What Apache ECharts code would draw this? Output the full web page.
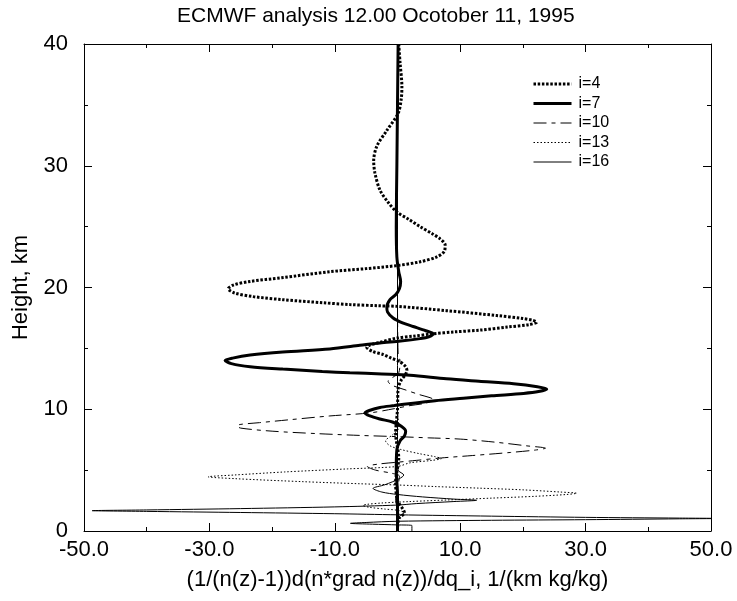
<!DOCTYPE html>
<html>
<head>
<meta charset="utf-8">
<script src="https://cdn.jsdelivr.net/npm/echarts@6/dist/echarts.min.js"></script>
<style>html,body{margin:0;padding:0;background:#fff}#c{width:737px;height:601px}</style>
</head>
<body>
<div id="c"></div>
<script>
// ---- data: [value, height km] ----
const seriesNames = ['i=4', 'i=7', 'i=10', 'i=13', 'i=16'];
const xMajorTicks = [-50, -30, -10, 10, 30, 50];
const xMinorTicks = [-40, -20, 0, 20, 40];
const yMajorTicks = [0, 10, 20, 30, 40];
const yMinorTicks = [5, 15, 25, 35];

const i4 = [[0.2,40],[0.4,38.5],[0.7,36.5],[0.6,35.5],[0.1,34.3],[-1.7,32.9],[-3.3,31.6],[-3.8,30.4],[-3.6,29.4],[-2.8,28],[-1.5,27],[-0.1,26.2],[1.8,25.6],[3.6,25],[5.6,24.4],[6.8,24],[7.6,23.5],[7.5,23.0],[6.2,22.5],[3.5,22.1],[-0.1,21.8],[-5,21.55],[-10.8,21.3],[-18.5,20.8],[-23.5,20.5],[-26.2,20.2],[-27,19.9],[-26,19.55],[-23,19.25],[-18.3,19.0],[-12,18.75],[-7.6,18.6],[-3,18.5],[0,18.45],[7.8,18.1],[15.8,17.7],[20,17.45],[21.6,17.3],[22.2,17.15],[21,16.95],[17.5,16.75],[13.2,16.5],[9,16.35],[5.7,16.2],[2.5,16.0],[-0.1,15.85],[-2.8,15.5],[-4.5,15.25],[-4.9,15.1],[-4,14.75],[-2.3,14.5],[-1,14.2],[0.4,13.9],[1.3,13.5],[1.5,13.2],[1.2,12.8],[0.6,12.4],[0.1,11.7],[0,10],[-0.3,8],[0.2,6],[-0.3,4],[0,2.5],[1.1,1.5],[0.2,1],[0,0]];

const i7 = [[0.1,40],[0,35],[-0.1,30],[-0.2,25],[-0.1,22.5],[0.2,21.3],[0.5,20.5],[0.3,19.9],[-0.3,19.4],[-1.2,19.0],[-1.7,18.4],[-1.6,18.0],[-0.7,17.5],[0.8,17.1],[2.5,16.8],[4.5,16.45],[5.7,16.2],[5,15.95],[3.6,15.8],[0.5,15.6],[-2.8,15.45],[-6,15.25],[-10.8,14.95],[-18.3,14.7],[-23.5,14.45],[-26.3,14.2],[-27.5,14.0],[-26.5,13.75],[-23.5,13.5],[-18.3,13.3],[-12,13.1],[-7.6,13.0],[-2.5,12.9],[2,12.8],[7.8,12.5],[13,12.3],[18.5,12.1],[22.3,11.85],[23.8,11.65],[22.5,11.45],[20.1,11.3],[15,11.1],[10.5,10.9],[6,10.7],[2.5,10.5],[-0.5,10.3],[-2.8,10.15],[-4.5,9.9],[-5.2,9.7],[-4.4,9.45],[-2.8,9.2],[-0.8,8.95],[0.6,8.6],[1.3,8.2],[1.1,7.8],[0.4,7.4],[-0.1,6.7],[-0.2,5],[0,3],[0,1],[0,0]];

const i10 = [[0,40],[0,20],[0.1,14.5],[0.4,14],[0.2,13],[-1.5,12.3],[-1,12.0],[1.2,11.6],[3.5,11.2],[5.2,10.95],[5.7,10.8],[4.5,10.5],[2,10.3],[-0.5,10.05],[-4.4,9.7],[-10.8,9.45],[-17,9.15],[-22,8.9],[-25.1,8.75],[-25.6,8.62],[-25,8.45],[-20,8.2],[-12.9,8.0],[-6,7.85],[0,7.75],[5,7.65],[10,7.55],[15.5,7.3],[20.5,7.0],[23.6,6.8],[22,6.65],[18,6.45],[12,6.2],[7,6.0],[3,5.8],[0,5.65],[-3,5.5],[-4.8,5.3],[-3.5,5.0],[-1,4.75],[0.3,4.5],[0,3.5],[-0.3,2.5],[0.2,1.5],[0,0]];

const i13 = [[0,40],[0,10],[0.2,8.5],[-0.8,7.9],[-1.9,7.4],[-1.2,7.0],[0.5,6.7],[3.5,6.35],[6,6.1],[7,5.95],[5.5,5.8],[2,5.6],[0,5.3],[-8,5.1],[-18,4.85],[-26,4.6],[-30.2,4.45],[-26,4.3],[-15,4.05],[-6,3.88],[0,3.78],[6,3.65],[13,3.52],[20,3.38],[26,3.2],[28.6,3.1],[27,3.0],[22,2.85],[15,2.7],[8,2.55],[2,2.42],[-2.5,2.3],[-5,2.18],[-5.5,2.1],[-4.5,1.95],[-2,1.8],[0,1.7],[1.1,1.5],[0.3,1.2],[0,0]];

const i16 = [[0,40],[0,6],[0.1,5.0],[1.0,4.6],[0.3,4.3],[-2,3.8],[-3.9,3.5],[-2.5,3.2],[0,3.0],[4,2.8],[9,2.62],[12.6,2.52],[9,2.42],[3,2.25],[0,2.13],[-10,1.98],[-25,1.84],[-40,1.73],[-48.7,1.67],[-40,1.61],[-25,1.52],[-10,1.42],[0,1.33],[15,1.22],[30,1.12],[45,1.06],[52,1.03],[45,1.0],[30,0.93],[15,0.88],[0,0.8],[-5,0.7],[-7.5,0.63],[-4,0.56],[0,0.5],[2.3,0.45],[2.3,0]];

const FONT = 'Liberation Sans, Arial, Helvetica, sans-serif';
const chart = echarts.init(document.getElementById('c'), null, {renderer: 'canvas'});

function xAx(pos, ticks, len, showLine, label) {
  const a = {
    type: 'value', min: -50, max: 50, position: pos,
    splitLine: {show: false},
    axisLine: {show: showLine, onZero: false, lineStyle: {color: '#000', width: 1}},
    axisTick: {show: true, inside: true, length: len, customValues: ticks, lineStyle: {color: '#000', width: 1}},
    axisLabel: {show: false}
  };
  if (label) {
    a.axisLabel = {show: true, customValues: ticks, formatter: v => Number(v).toFixed(1),
      fontSize: 22, color: '#000', fontFamily: FONT, margin: 8};
    a.name = '(1/(n(z)-1))d(n*grad n(z))/dq_i, 1/(km kg/kg)';
    a.nameLocation = 'middle';
    a.nameGap = 38;
    a.nameTextStyle = {fontSize: 22, color: '#000', fontFamily: FONT};
  }
  return a;
}
function yAx(pos, ticks, len, showLine, label) {
  const a = {
    type: 'value', min: 0, max: 40, position: pos,
    splitLine: {show: false},
    axisLine: {show: showLine, onZero: false, lineStyle: {color: '#000', width: 1}},
    axisTick: {show: true, inside: true, length: len, customValues: ticks, lineStyle: {color: '#000', width: 1}},
    axisLabel: {show: false}
  };
  if (label) {
    a.axisLabel = {show: true, customValues: ticks, fontSize: 22, color: '#000', fontFamily: FONT, margin: 16};
    a.name = 'Height, km';
    a.nameLocation = 'middle';
    a.nameGap = 52;
    a.nameTextStyle = {fontSize: 22, color: '#000', fontFamily: FONT};
  }
  return a;
}

const styles = [
  {width: 3, type: [2.5, 1.7]},
  {width: 3, type: 'solid'},
  {width: 1, type: [13, 5, 4, 5]},
  {width: 1, type: [1.5, 2]},
  {width: 1, type: 'solid'}
];
const dataSets = [i4, i7, i10, i13, i16];

chart.setOption({
  animation: false,
  backgroundColor: '#fff',
  title: {
    text: 'ECMWF analysis 12.00 Ocotober 11, 1995',
    left: 177, top: 6, padding: 0,
    textStyle: {fontSize: 21, fontWeight: 'normal', color: '#000', fontFamily: FONT}
  },
  grid: {left: 84, right: 26, top: 44, bottom: 70, containLabel: false},
  legend: {
    orient: 'vertical', left: 532, top: 76, padding: 0,
    itemWidth: 38, itemHeight: 14, itemGap: 3.5,
    itemStyle: {opacity: 0},
    textStyle: {fontSize: 16, lineHeight: 14, color: '#000', fontFamily: FONT, padding: [0, 0, 0, 2]},
    data: seriesNames.map((n, k) => ({
      name: n,
      lineStyle: {width: styles[k].width, type: styles[k].type, color: '#000', cap: 'butt'}
    }))
  },
  xAxis: [
    xAx('bottom', xMajorTicks, 8, true, true),
    xAx('bottom', xMinorTicks, 4, false, false),
    xAx('top', xMajorTicks, 8, true, false),
    xAx('top', xMinorTicks, 4, false, false)
  ],
  yAxis: [
    yAx('left', yMajorTicks, 8, true, true),
    yAx('left', yMinorTicks, 4, false, false),
    yAx('right', yMajorTicks, 8, true, false),
    yAx('right', yMinorTicks, 4, false, false)
  ],
  series: dataSets.map((d, k) => ({
    name: seriesNames[k],
    type: 'line',
    xAxisIndex: 0, yAxisIndex: 0,
    data: d,
    smooth: 0.3,
    symbol: 'none',
    showSymbol: false,
    clip: true,
    color: '#000',
    lineStyle: {color: '#000', width: styles[k].width, type: styles[k].type, cap: 'butt'},
    z: 2 + k
  }))
});
</script>
</body>
</html>
